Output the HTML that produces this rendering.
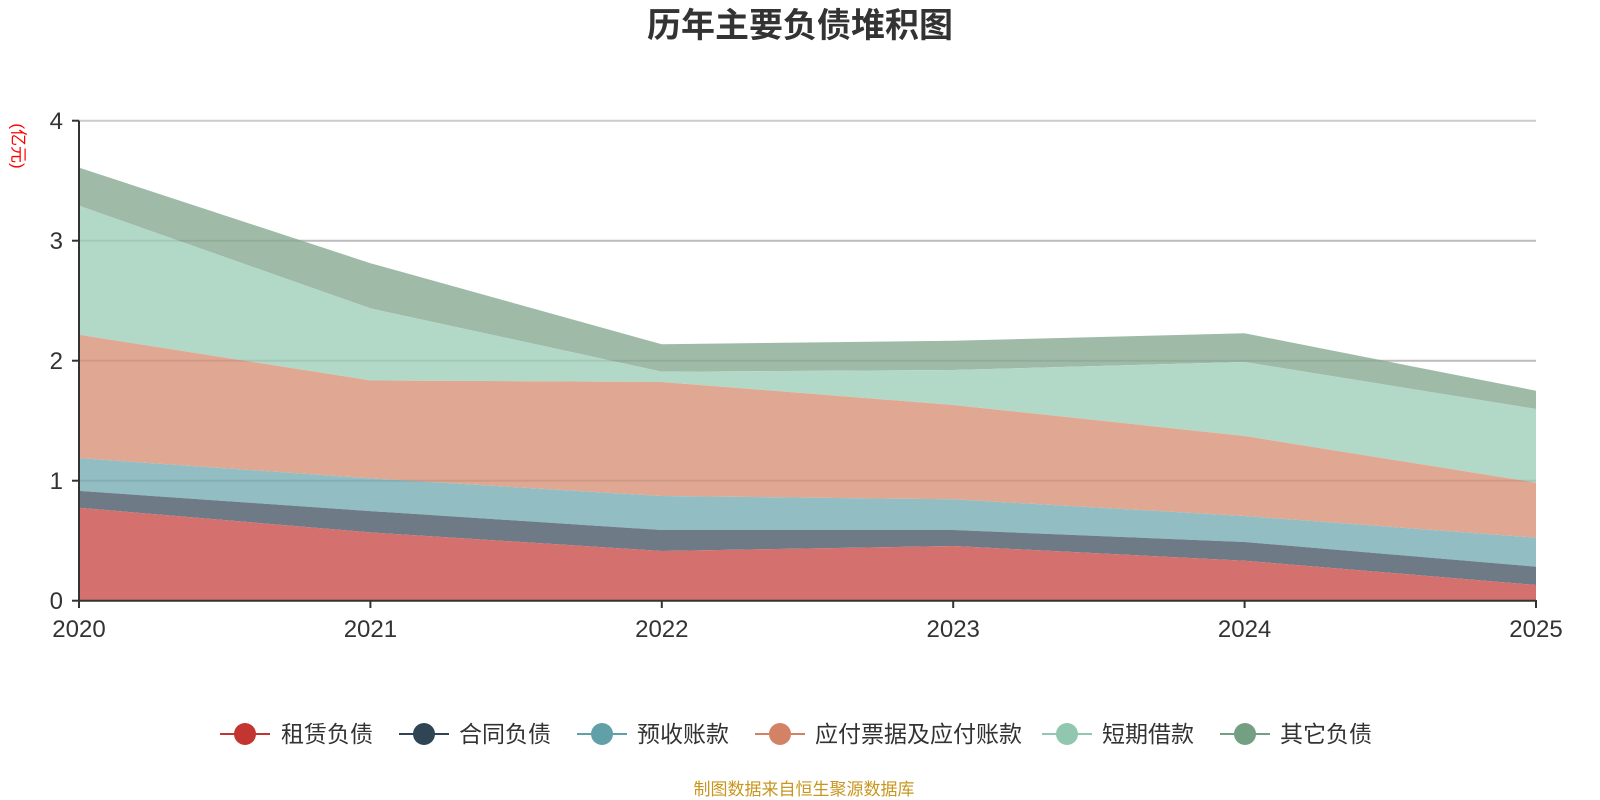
<!DOCTYPE html>
<html><head><meta charset="utf-8"><style>
html,body{margin:0;padding:0;background:#fff;width:1600px;height:800px;overflow:hidden}
text{font-family:"Liberation Sans","Noto Sans CJK SC",sans-serif}
</style></head><body>
<svg width="1600" height="800" viewBox="0 0 1600 800" xmlns="http://www.w3.org/2000/svg">
<text x="800" y="37" text-anchor="middle" font-size="34" font-weight="bold" fill="#333">历年主要负债堆积图</text>
<text transform="translate(17,146) rotate(90)" text-anchor="middle" font-size="17" fill="#f00" dominant-baseline="middle">(亿元)</text>
<g stroke="#ccc" stroke-width="2">
<line x1="79" y1="120.7" x2="1536" y2="120.7"/><line x1="79" y1="240.7" x2="1536" y2="240.7"/><line x1="79" y1="360.7" x2="1536" y2="360.7"/><line x1="79" y1="480.7" x2="1536" y2="480.7"/>
</g>
<g>
<polygon fill="#9fbba8" points="79,167.6 370.4,263.2 661.8,344.3 953.2,340.7 1244.6,333.3 1536,390.7 1536,409 1244.6,362 953.2,370 661.8,371.7 370.4,308.4 79,205.7"/>
<polygon fill="#b2d9c7" points="79,205.7 370.4,308.4 661.8,371.7 953.2,370 1244.6,362 1536,409 1536,482.7 1244.6,436 953.2,405 661.8,382 370.4,380.4 79,334.8"/>
<polygon fill="#e0a892" points="79,334.8 370.4,380.4 661.8,382 953.2,405 1244.6,436 1536,482.7 1536,537.7 1244.6,516 953.2,499.3 661.8,496 370.4,478.4 79,458.1"/>
<polygon fill="#91bdc3" points="79,458.1 370.4,478.4 661.8,496 953.2,499.3 1244.6,516 1536,537.7 1536,566.7 1244.6,542 953.2,530 661.8,530 370.4,511.1 79,490.9"/>
<polygon fill="#6e7b87" points="79,490.9 370.4,511.1 661.8,530 953.2,530 1244.6,542 1536,566.7 1536,585 1244.6,560.7 953.2,546 661.8,551 370.4,532.4 79,507.8"/>
<polygon fill="#d4706d" points="79,507.8 370.4,532.4 661.8,551 953.2,546 1244.6,560.7 1536,585 1536,600.7 79,600.7"/>
</g>
<g stroke="#000" stroke-opacity="0.08" stroke-width="2">
<line x1="79" y1="240.7" x2="1536" y2="240.7"/><line x1="79" y1="360.7" x2="1536" y2="360.7"/><line x1="79" y1="480.7" x2="1536" y2="480.7"/>
</g>
<g stroke="#333" stroke-width="2">
<line x1="79" y1="120.7" x2="79" y2="601"/><line x1="72" y1="120.7" x2="79" y2="120.7"/><line x1="72" y1="240.7" x2="79" y2="240.7"/><line x1="72" y1="360.7" x2="79" y2="360.7"/><line x1="72" y1="480.7" x2="79" y2="480.7"/><line x1="72" y1="600.7" x2="79" y2="600.7"/>
<line x1="79" y1="600.7" x2="1536" y2="600.7"/>
<line x1="79" y1="600" x2="79" y2="608"/><line x1="370.4" y1="600" x2="370.4" y2="608"/><line x1="661.8" y1="600" x2="661.8" y2="608"/><line x1="953.2" y1="600" x2="953.2" y2="608"/><line x1="1244.6" y1="600" x2="1244.6" y2="608"/><line x1="1536" y1="600" x2="1536" y2="608"/>
</g>
<g font-size="24" fill="#333" text-anchor="end">
<text x="63" y="129">4</text><text x="63" y="249">3</text><text x="63" y="369">2</text><text x="63" y="489">1</text><text x="63" y="609">0</text>
</g>
<g font-size="24" fill="#333" text-anchor="middle">
<text x="79" y="637">2020</text><text x="370.4" y="637">2021</text><text x="661.8" y="637">2022</text><text x="953.2" y="637">2023</text><text x="1244.6" y="637">2024</text><text x="1536" y="637">2025</text>
</g>
<g font-size="23" fill="#333">
<line x1="220" y1="734" x2="270" y2="734" stroke="#c23531" stroke-width="2"/><circle cx="245" cy="734" r="11" fill="#c23531"/><text x="281" y="742">租赁负债</text>
<line x1="399" y1="734" x2="449" y2="734" stroke="#2f4554" stroke-width="2"/><circle cx="424" cy="734" r="11" fill="#2f4554"/><text x="459" y="742">合同负债</text>
<line x1="577" y1="734" x2="627" y2="734" stroke="#61a0a8" stroke-width="2"/><circle cx="602" cy="734" r="11" fill="#61a0a8"/><text x="637" y="742">预收账款</text>
<line x1="755" y1="734" x2="805" y2="734" stroke="#d48265" stroke-width="2"/><circle cx="780" cy="734" r="11" fill="#d48265"/><text x="815" y="742">应付票据及应付账款</text>
<line x1="1042" y1="734" x2="1092" y2="734" stroke="#91c7ae" stroke-width="2"/><circle cx="1067" cy="734" r="11" fill="#91c7ae"/><text x="1102" y="742">短期借款</text>
<line x1="1220" y1="734" x2="1270" y2="734" stroke="#749f83" stroke-width="2"/><circle cx="1245" cy="734" r="11" fill="#749f83"/><text x="1280" y="742">其它负债</text>
</g>
<text x="804" y="795" text-anchor="middle" font-size="17" fill="#c8961e">制图数据来自恒生聚源数据库</text>
</svg>
</body></html>
